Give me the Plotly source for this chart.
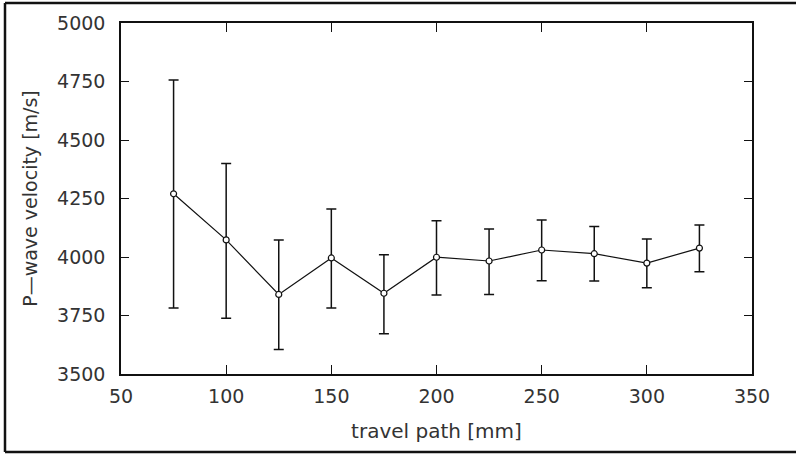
import plotly.graph_objects as go

travel_path = [75, 100, 125, 150, 175, 200, 225, 250, 275, 300, 325]
velocity = [4270, 4073, 3840, 3996, 3845, 3999, 3983, 4030, 4014, 3974, 4038]
upper = [4756, 4400, 4073, 4205, 4010, 4155, 4120, 4158, 4130, 4077, 4137]
lower = [3782, 3738, 3605, 3782, 3672, 3838, 3840, 3899, 3897, 3869, 3937]

err_plus = [u - v for u, v in zip(upper, velocity)]
err_minus = [v - l for v, l in zip(velocity, lower)]

x_ticks = [50, 100, 150, 200, 250, 300, 350]
y_ticks = [3500, 3750, 4000, 4250, 4500, 4750, 5000]

fig = go.Figure()
fig.add_trace(go.Scatter(
    x=travel_path, y=velocity, mode="lines+markers",
    line=dict(color="#111", width=1.2),
    marker=dict(symbol="circle", size=6, color="white", line=dict(color="#111", width=1.2)),
    error_y=dict(type="data", symmetric=False, array=err_plus, arrayminus=err_minus,
                 color="#111", thickness=1.5, width=5),
    showlegend=False,
))

font_family = "DejaVu Sans, Noto Sans, sans-serif"
fig.update_layout(
    width=796, height=457,
    margin=dict(l=121, r=44, t=23, b=83),
    paper_bgcolor="white", plot_bgcolor="white",
    font=dict(family=font_family, color="#333"),
    xaxis=dict(range=[50, 350], tickvals=x_ticks, ticks="inside", ticklen=9,
               tickwidth=1.2, tickcolor="#111", mirror="ticks", showline=True,
               linecolor="#111", linewidth=1.5, showgrid=False, zeroline=False,
               tickfont=dict(size=19, color="#333"), ticklabelstandoff=4,
               title=dict(text="travel path [mm]", font=dict(size=20, color="#333"), standoff=18)),
    yaxis=dict(range=[3500, 5000], tickvals=y_ticks, ticks="inside", ticklen=8,
               tickwidth=1.2, tickcolor="#111", mirror="ticks", showline=True,
               linecolor="#111", linewidth=1.5, showgrid=False, zeroline=False,
               tickfont=dict(size=19, color="#333"), ticklabelstandoff=10,
               title=dict(text="P\u2014wave velocity [m/s]", font=dict(size=19, color="#333"), standoff=14)),
)

# outer frame (left, top, bottom edges of the scanned figure border)
fx0 = (5 - 121) / 631
fx1 = (830 - 121) / 631
fy0 = (374 - 452) / 351
fy1 = (374 - 3) / 351
for x0, y0, x1, y1 in [(fx0, fy0, fx0, fy1), (fx0, fy1, fx1, fy1), (fx0, fy0, fx1, fy0)]:
    fig.add_shape(type="line", xref="paper", yref="paper", x0=x0, y0=y0, x1=x1, y1=y1,
                  line=dict(color="#111", width=2.5), layer="below")

fig.write_html("out.html", config={"displayModeBar": False},
               post_script="document.body.style.margin='0';document.body.style.overflow='hidden';")
